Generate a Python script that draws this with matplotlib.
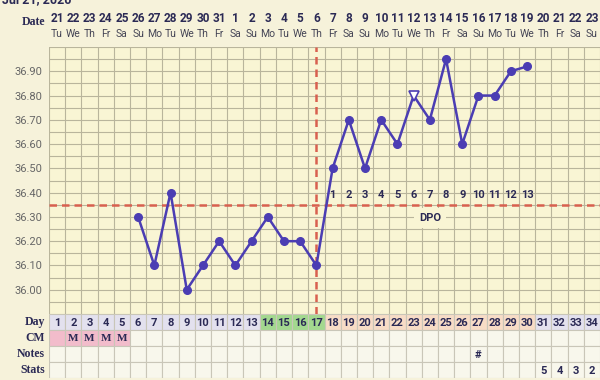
import matplotlib
matplotlib.use("Agg")
import matplotlib.pyplot as plt
from matplotlib.patches import Rectangle

# chart data
title = "Jul 21, 2020"
days = list(range(1, 35))
dates = list(range(21, 32)) + list(range(1, 24))
weekdays = (["Tu", "We", "Th", "Fr", "Sa", "Su", "Mo"] * 5)[:34]

temp_days = list(range(6, 31))
temps = [36.30, 36.10, 36.40, 36.00, 36.10, 36.20, 36.10, 36.20, 36.30, 36.20,
         36.20, 36.10, 36.50, 36.70, 36.50, 36.70, 36.60, 36.80, 36.70, 36.95,
         36.60, 36.80, 36.80, 36.90, 36.92]
special_day = 23          # open triangle marker

coverline = 36.35
ovulation_day = 17
dpo_days = list(range(18, 31))
dpo_labels = [str(i) for i in range(1, 14)]

fertile_days = [14, 15, 16, 17]
luteal_days = list(range(18, 31))
period_days = [1, 2, 3, 4, 5]
cm_days = [2, 3, 4, 5]
cm_labels = ["M", "M", "M", "M"]
note_days = [27]
note_labels = ["#"]
stats_days = [31, 32, 33, 34]
stats_labels = ["5", "4", "3", "2"]

row_names = ["Day", "CM", "Notes", "Stats"]

# colours
bg = "#f6f2da"
chart_bg = "#f9f5d4"
grid_c = "#b9b59c"
line_c = "#4b3db3"
red_c = "#d8604f"
navy = "#2b2a55"
W, H = 600, 380

fig = plt.figure(figsize=(6, 3.8), dpi=100)
fig.patch.set_facecolor(bg)

x0 = 49
ax = fig.add_axes([x0 / W, (H - 314) / H, (W - x0) / W, (314 - 47) / H])
ax.set_facecolor(chart_bg)
ax.set_xlim(0.5, 34.5)
ax.set_ylim(35.90, 37.00)
for d in range(0, 36):
    ax.axvline(d + 0.5, color=grid_c, lw=0.8, zorder=1)
for i in range(23):
    ax.axhline(35.90 + i * 0.05, color=grid_c, lw=0.8, zorder=1)
ax.set_xticks([])
ax.set_yticks([36.0 + i * 0.1 for i in range(10)])
ax.set_yticklabels(["%.2f" % (36.0 + i * 0.1) for i in range(10)],
                   fontsize=8, color="#666666", family="Roboto")
ax.tick_params(axis="y", length=0, pad=5)
for s in ax.spines.values():
    s.set_visible(False)

ax.axhline(coverline, color=red_c, lw=1.8, ls=(0, (3, 2)), zorder=3)
ax.axvline(ovulation_day, color=red_c, lw=1.8, ls=(0, (3, 2)), zorder=3)

ax.plot(temp_days, temps, color=line_c, lw=1.8, zorder=4)
for d, t in zip(temp_days, temps):
    if d == special_day:
        ax.plot(d, t, marker="v", ms=6.5, mfc="white", mec=line_c, mew=1.2, zorder=5)
    else:
        ax.plot(d, t, marker="o", ms=5.5, color=line_c, zorder=5)

for d, lab in zip(dpo_days, dpo_labels):
    ax.text(d, 36.39, lab, ha="center", va="center", fontsize=8,
            fontweight="bold", color=navy, family="Roboto", zorder=6)
ax.text(24, 36.295, "DPO", ha="center", va="center", fontsize=8, fontweight="bold",
        color=navy, family="Roboto", zorder=2,
        bbox=dict(boxstyle="square,pad=0.45", fc=chart_bg, ec="none"))

# header with dates
hx = fig.add_axes([x0 / W, (H - 47) / H, (W - x0) / W, 47 / H])
hx.set_xlim(0.5, 34.5)
hx.set_ylim(47, 0)
hx.axis("off")
for d, dt, wd in zip(days, dates, weekdays):
    hx.text(d, 19, str(dt), ha="center", va="center", fontsize=8.5,
            fontweight="bold", color=navy, family="Roboto")
    hx.text(d, 34, wd, ha="center", va="center", fontsize=7.5,
            color="#444455", family="Roboto")
fig.text(33 / W, 1 - 22 / H, "Date", ha="center", va="center", fontsize=8.5,
         fontweight="bold", color=navy, family="Liberation Serif")
fig.text(2 / W, 1 - 3 / H, title, ha="left", va="baseline", fontsize=9,
         fontweight="bold", color=navy, family="Roboto")

# table rows
tx = fig.add_axes([x0 / W, 2 / H, (W - x0) / W, 64 / H])
tx.set_xlim(0.5, 34.5)
tx.set_ylim(4, 0)
tx.axis("off")
for d in days:
    if d in fertile_days:
        c = "#a3d88f"
    elif d in luteal_days:
        c = "#f7dcc6"
    else:
        c = "#e3e1ee"
    tx.add_patch(Rectangle((d - 0.5, 0), 1, 1, fc=c, ec="#c9c6b8", lw=0.8))
    cm_c = "#f2bccb" if d in period_days else "#f8f7ec"
    tx.add_patch(Rectangle((d - 0.5, 1), 1, 1, fc=cm_c, ec="#c9c6b8", lw=0.8))
    for r in (2, 3):
        tx.add_patch(Rectangle((d - 0.5, r), 1, 1, fc="#f8f7ec", ec="#c9c6b8", lw=0.8))
    tx.text(d, 0.55, str(d), ha="center", va="center", fontsize=8,
            fontweight="bold", color=navy, family="Roboto")
for d, lab in zip(cm_days, cm_labels):
    tx.text(d, 1.55, lab, ha="center", va="center", fontsize=8,
            fontweight="bold", color=navy, family="Liberation Serif")
for d, lab in zip(note_days, note_labels):
    tx.text(d, 2.55, lab, ha="center", va="center", fontsize=8,
            fontweight="bold", color=navy, family="Roboto")
for d, lab in zip(stats_days, stats_labels):
    tx.text(d, 3.55, lab, ha="center", va="center", fontsize=8,
            fontweight="bold", color=navy, family="Roboto")
for i, name in enumerate(row_names):
    fig.text(45 / W, (H - 322 - 16 * i) / H, name, ha="right", va="center",
             fontsize=8.5, fontweight="bold", color=navy, family="Liberation Serif")

fig.savefig("out.png", dpi=100, facecolor=bg)
